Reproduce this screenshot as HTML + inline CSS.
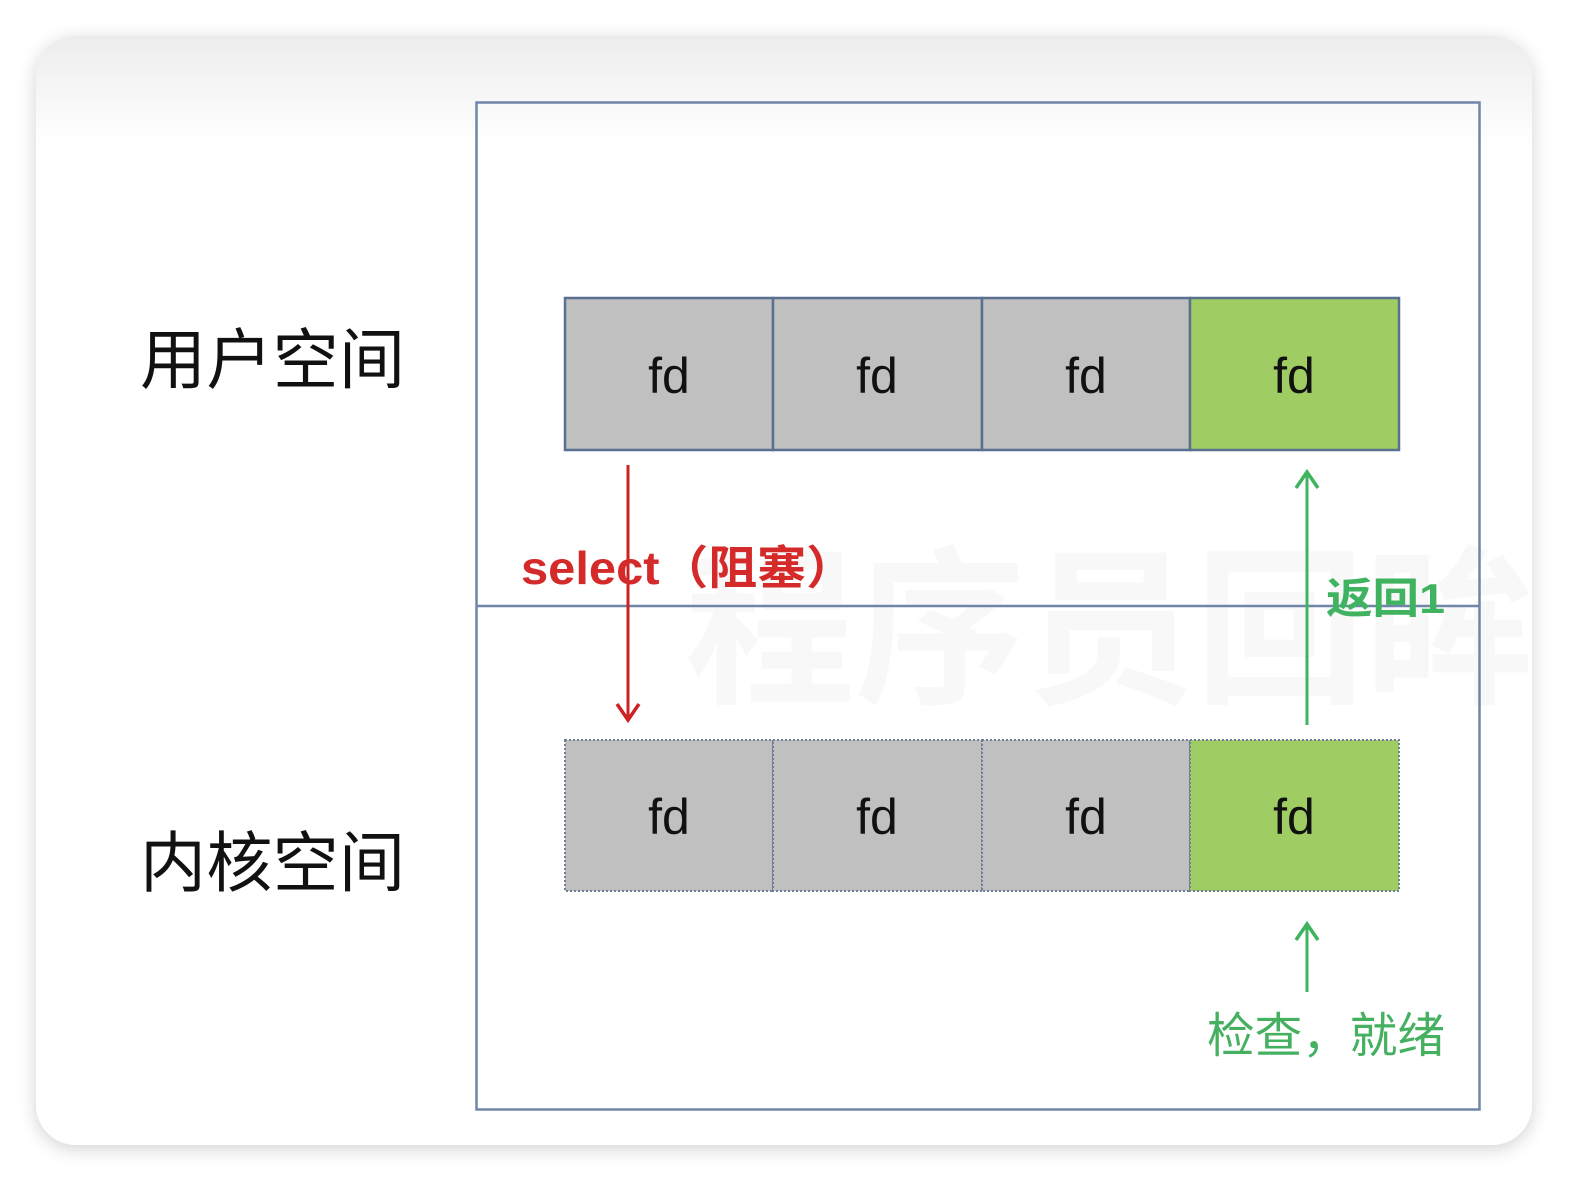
<!DOCTYPE html>
<html><head><meta charset="utf-8"><style>
html,body{margin:0;padding:0;background:#fff;}
body{width:1580px;height:1190px;position:relative;overflow:hidden;font-family:"Liberation Sans","Noto Sans CJK SC",sans-serif;}
.card{position:absolute;left:36px;top:36px;width:1496px;height:1109px;border-radius:40px;background:linear-gradient(#ececec 0px,#fafafa 80px,#fff 110px);box-shadow:0 4px 18px rgba(0,0,0,0.18);overflow:hidden;}
svg{position:absolute;left:0;top:0;}
</style></head><body>
<div class="card"></div>
<svg width="1580" height="1190" viewBox="0 0 1580 1190" font-family="Liberation Sans, Noto Sans CJK SC, sans-serif">
<text x="1110" y="690" font-size="170" font-weight="bold" fill="#f8f8f8" text-anchor="middle">程序员回眸</text>
<rect x="476.5" y="102.5" width="1003" height="1007" fill="none" stroke="#6f86a8" stroke-width="2.5"/>
<line x1="476" y1="606" x2="1480" y2="606" stroke="#6f86a8" stroke-width="2.5"/>
<g stroke="#5a7090" stroke-width="2.5">
<rect x="565" y="298" width="208" height="152" fill="#c0c0c0"/>
<rect x="773" y="298" width="209" height="152" fill="#c0c0c0"/>
<rect x="982" y="298" width="208" height="152" fill="#c0c0c0"/>
<rect x="1190" y="298" width="209" height="152" fill="#9fcd63"/>
</g>
<g stroke="#6f7f99" stroke-width="2" stroke-dasharray="2,2">
<rect x="565" y="740" width="208" height="151" fill="#c0c0c0"/>
<rect x="773" y="740" width="209" height="151" fill="#c0c0c0"/>
<rect x="982" y="740" width="208" height="151" fill="#c0c0c0"/>
<rect x="1190" y="740" width="209" height="151" fill="#9fcd63"/>
</g>
<g font-size="50" fill="#111" text-anchor="middle">
<text x="669" y="393">fd</text><text x="877" y="393">fd</text><text x="1086" y="393">fd</text><text x="1294" y="393">fd</text>
<text x="669" y="834">fd</text><text x="877" y="834">fd</text><text x="1086" y="834">fd</text><text x="1294" y="834">fd</text>
</g>
<text x="140" y="383" font-size="66" fill="#111" textLength="265">用户空间</text>
<text x="140" y="886" font-size="66" fill="#111" textLength="265">内核空间</text>
<line x1="628" y1="465" x2="628" y2="718" stroke="#cc2222" stroke-width="3"/>
<polyline points="617,704 628,720 639,704" fill="none" stroke="#cc2222" stroke-width="3.5"/>
<text x="521" y="584" font-size="46" font-weight="bold" fill="#d42a2a" textLength="334" lengthAdjust="spacingAndGlyphs">select（阻塞）</text>
<line x1="1307" y1="472" x2="1307" y2="725" stroke="#3fb35f" stroke-width="3"/>
<polyline points="1296,488 1307,472 1318,488" fill="none" stroke="#3fb35f" stroke-width="3.5"/>
<text x="1326" y="613" font-size="42" font-weight="bold" fill="#3fb35f" textLength="119" lengthAdjust="spacingAndGlyphs">返回1</text>
<line x1="1307" y1="925" x2="1307" y2="992" stroke="#3fb35f" stroke-width="3"/>
<polyline points="1296,940 1307,924 1318,940" fill="none" stroke="#3fb35f" stroke-width="3.5"/>
<text x="1207" y="1052" font-size="48" fill="#44b060" textLength="238" lengthAdjust="spacingAndGlyphs">检查，就绪</text>
</svg>
</body></html>
